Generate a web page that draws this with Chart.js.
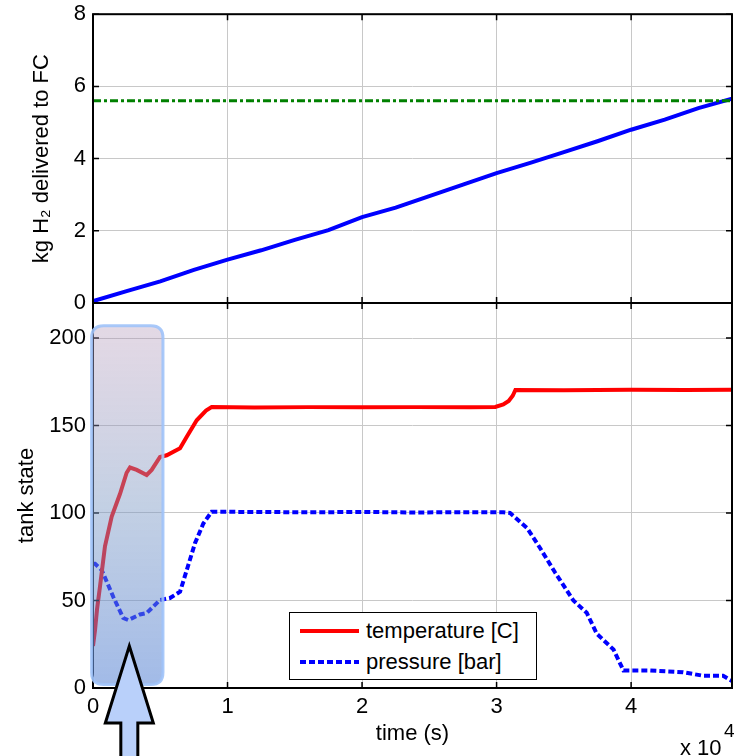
<!DOCTYPE html>
<html>
<head>
<meta charset="utf-8">
<script src="https://cdn.jsdelivr.net/npm/chart.js@4.4.1/dist/chart.umd.min.js"></script>
<style>
  html, body { margin: 0; padding: 0; background: #fff; }
  #wrap { position: relative; width: 734px; height: 756px; overflow: hidden; font-family: "Liberation Sans", Arial, sans-serif; }
  #topChart { position: absolute; left: 0; top: -6px; }
  #bottomChart { position: absolute; left: 0; top: 280px; }
  #legend { position: absolute; left: 289px; top: 612px; width: 248px; height: 68px; box-sizing: border-box; border: 1.5px solid #000; background: #fff; }
  #legend .item { position: absolute; left: 0; width: 100%; height: 30px; }
  #legend svg { position: absolute; left: 10px; top: 0; }
  #legend span { position: absolute; left: 76px; top: 2px; font-size: 22px; line-height: 26px; color: #000; white-space: nowrap; }
</style>
</head>
<body>
<div id="wrap">
  <canvas id="topChart" width="734" height="330"></canvas>
  <canvas id="bottomChart" width="734" height="476"></canvas>
  <div id="legend"></div>
</div>
<script>
// x range of both panels (s)
const timeMax = 47500;
const timeTicks = [0, 10000, 20000, 30000, 40000];
const massTicks = [0, 2, 4, 6, 8];
const stateTicks = [0, 50, 100, 150, 200];

// top panel: kg H2 delivered to FC
const massTime = [0, 2500, 5000, 7500, 10000, 12500, 15000, 17500, 20000, 22500, 25000, 27500, 30000, 32500, 35000, 37500, 40000, 42500, 45000, 47500];
const massKg = [0.05, 0.33, 0.6, 0.92, 1.2, 1.46, 1.75, 2.02, 2.38, 2.64, 2.96, 3.28, 3.6, 3.88, 4.18, 4.48, 4.8, 5.08, 5.4, 5.66];
const targetTime = [0, 47500];
const targetKg = [5.6, 5.6];

// bottom panel: tank state
const tempTime = [0, 150, 300, 520, 890, 1390, 2010, 2500, 2750, 3250, 3990, 4360, 4980, 5480, 6470, 6970, 7710, 8400, 8820, 12000, 16000, 20000, 24000, 28000, 29900, 30500, 30900, 31200, 31400, 35000, 40000, 44000, 47500];
const tempC = [24, 33, 45, 58, 81, 98, 111, 123, 126, 124.6, 121.7, 124.6, 132, 133, 137, 143.6, 153, 158.5, 160.5, 160.3, 160.5, 160.4, 160.5, 160.4, 160.6, 162, 164, 167, 170.3, 170.2, 170.4, 170.3, 170.5];
const presTime = [0, 150, 650, 1510, 2250, 2620, 3490, 3990, 4980, 5720, 6470, 6970, 7580, 8200, 8820, 12000, 16000, 20000, 24000, 28000, 30500, 31000, 32270, 33230, 34350, 34720, 35710, 36700, 37450, 38690, 39430, 41410, 43870, 45350, 46840, 47500];
const presBar = [71, 71, 67.4, 52, 40, 38.8, 42, 42.8, 50.3, 51.4, 55, 67.4, 82.7, 94, 100.7, 100.6, 100.4, 100.6, 100.3, 100.5, 100.4, 100, 91.4, 80, 66, 61.7, 50, 43, 31, 22, 10, 10, 9, 7, 7, 4];

const seriesLabels = ["temperature [C]", "pressure [bar]"];

// highlighted start-up window and arrow tip (data units)
const highlightTime = [-100, 5200];
const highlightState = [2, 207];
const arrowTip = [2700, 24];

function pts(xs, ys) {
  return xs.map((x, i) => ({ x: x, y: ys[i] }));
}
function fixedTicks(values) {
  return scale => { scale.ticks = values.map(v => ({ value: v })); };
}

Chart.defaults.font.family = "'Liberation Sans', Arial, sans-serif";
Chart.defaults.font.size = 22;
Chart.defaults.color = "#000";

const gridOpts = { color: "#c8c8c8", lineWidth: 1, drawTicks: false };

const framePlugin = {
  id: "frame",
  afterDatasetsDraw(chart) {
    const { ctx, chartArea: a, scales } = chart;
    ctx.save();
    ctx.strokeStyle = "#000";
    ctx.lineWidth = 1.5;
    ctx.beginPath();
    scales.x.ticks.forEach(t => {
      const px = scales.x.getPixelForValue(t.value);
      ctx.moveTo(px, a.bottom); ctx.lineTo(px, a.bottom - 6);
      ctx.moveTo(px, a.top); ctx.lineTo(px, a.top + 6);
    });
    scales.y.ticks.forEach(t => {
      const py = scales.y.getPixelForValue(t.value);
      ctx.moveTo(a.left, py); ctx.lineTo(a.left + 6, py);
      ctx.moveTo(a.right, py); ctx.lineTo(a.right - 6, py);
    });
    ctx.stroke();
    ctx.lineWidth = 2;
    ctx.strokeRect(a.left, a.top, a.right - a.left, a.bottom - a.top);
    ctx.restore();
  }
};

const overlayPlugin = {
  id: "overlay",
  afterDraw(chart) {
    const { ctx, scales, chartArea: a } = chart;
    const x0 = scales.x.getPixelForValue(highlightTime[0]);
    const x1 = scales.x.getPixelForValue(highlightTime[1]);
    const y0 = scales.y.getPixelForValue(highlightState[1]);
    const y1 = scales.y.getPixelForValue(highlightState[0]);
    const r = 12;
    ctx.save();
    ctx.beginPath();
    ctx.moveTo(x0 + r, y0);
    ctx.lineTo(x1 - r, y0);
    ctx.quadraticCurveTo(x1, y0, x1, y0 + r);
    ctx.lineTo(x1, y1 - r);
    ctx.quadraticCurveTo(x1, y1, x1 - r, y1);
    ctx.lineTo(x0 + r, y1);
    ctx.quadraticCurveTo(x0, y1, x0, y1 - r);
    ctx.lineTo(x0, y0 + r);
    ctx.quadraticCurveTo(x0, y0, x0 + r, y0);
    ctx.closePath();
    const g = ctx.createLinearGradient(0, y0, 0, y1);
    g.addColorStop(0, "rgba(175, 145, 180, 0.35)");
    g.addColorStop(0.5, "rgba(122, 151, 195, 0.45)");
    g.addColorStop(1, "rgba(85, 130, 212, 0.55)");
    ctx.fillStyle = g;
    ctx.fill();
    ctx.lineWidth = 3;
    ctx.strokeStyle = "rgba(160, 195, 250, 0.9)";
    ctx.stroke();

    // arrow pointing at the window
    const tx = scales.x.getPixelForValue(arrowTip[0]);
    const ty = scales.y.getPixelForValue(arrowTip[1]);
    const hb = ty + 77;
    const bot = chart.height + 10;
    ctx.beginPath();
    ctx.moveTo(tx, ty);
    ctx.lineTo(tx + 24, hb);
    ctx.lineTo(tx + 8.5, hb);
    ctx.lineTo(tx + 8.5, bot);
    ctx.lineTo(tx - 8.5, bot);
    ctx.lineTo(tx - 8.5, hb);
    ctx.lineTo(tx - 24, hb);
    ctx.closePath();
    ctx.fillStyle = "#b9d0fa";
    ctx.fill();
    ctx.lineWidth = 3;
    ctx.lineJoin = "miter";
    ctx.strokeStyle = "#000";
    ctx.stroke();

    // axis exponent
    ctx.fillStyle = "#000";
    ctx.textBaseline = "alphabetic";
    ctx.textAlign = "left";
    ctx.font = "22px 'Liberation Sans', Arial, sans-serif";
    ctx.fillText("x 10", a.right - 52, chart.height - 1);
    ctx.font = "19px 'Liberation Sans', Arial, sans-serif";
    ctx.fillText("4", a.right - 8, chart.height - 19);
    ctx.restore();
  }
};

new Chart(document.getElementById("topChart"), {
  type: "line",
  data: {
    datasets: [
      {
        label: "target",
        data: pts(targetTime, targetKg),
        borderColor: "#008000",
        borderWidth: 3,
        borderDash: [8, 3, 3, 3],
        pointRadius: 0
      },
      {
        label: "delivered",
        data: pts(massTime, massKg),
        borderColor: "#0000ff",
        borderWidth: 4,
        pointRadius: 0
      }
    ]
  },
  options: {
    responsive: false,
    animation: false,
    layout: { padding: { left: 0, right: 2, top: 0, bottom: 0 } },
    plugins: { legend: { display: false }, tooltip: { enabled: false } },
    scales: {
      x: {
        type: "linear",
        min: 0,
        max: timeMax,
        grid: gridOpts,
        border: { display: false },
        ticks: { display: false },
        afterBuildTicks: fixedTicks(timeTicks),
        afterFit(s) { s.height = 21; }
      },
      y: {
        min: 0,
        max: 8,
        grid: gridOpts,
        border: { display: false },
        ticks: { padding: 7 },
        afterBuildTicks: fixedTicks(massTicks),
        title: { display: true, text: "kg H₂ delivered to FC", padding: { top: 29, bottom: 0 } },
        afterFit(s) { s.width = 93; }
      }
    }
  },
  plugins: [framePlugin]
});

new Chart(document.getElementById("bottomChart"), {
  type: "line",
  data: {
    datasets: [
      {
        label: seriesLabels[0],
        data: pts(tempTime, tempC),
        borderColor: "#ff0000",
        borderWidth: 4,
        pointRadius: 0
      },
      {
        label: seriesLabels[1],
        data: pts(presTime, presBar),
        borderColor: "#0000ff",
        borderWidth: 4,
        borderDash: [6, 3],
        pointRadius: 0
      }
    ]
  },
  options: {
    responsive: false,
    animation: false,
    layout: { padding: { left: 0, right: 2, top: 23, bottom: 0 } },
    plugins: { legend: { display: false }, tooltip: { enabled: false } },
    scales: {
      x: {
        type: "linear",
        min: 0,
        max: timeMax,
        grid: gridOpts,
        border: { display: false },
        ticks: { padding: 6, callback: v => v / 10000 },
        afterBuildTicks: fixedTicks(timeTicks),
        title: { display: true, text: "time (s)", padding: { top: 0, bottom: 9 } },
        afterFit(s) { s.height = 68; }
      },
      y: {
        min: 0,
        max: 220,
        grid: gridOpts,
        border: { display: false },
        ticks: { padding: 7 },
        afterBuildTicks: fixedTicks(stateTicks),
        title: { display: true, text: "tank state", padding: { top: 14, bottom: 0 } },
        afterFit(s) { s.width = 93; }
      }
    }
  },
  plugins: [framePlugin, overlayPlugin]
});

// legend inside the lower axes
const legend = document.getElementById("legend");
const legendStyles = [
  { color: "#ff0000", dash: "" },
  { color: "#0000ff", dash: "6 3" }
];
seriesLabels.forEach((name, i) => {
  const item = document.createElement("div");
  item.className = "item";
  item.style.top = (3 + i * 31) + "px";
  item.innerHTML =
    '<svg width="60" height="30"><line x1="0" y1="15" x2="59" y2="15" stroke="' + legendStyles[i].color +
    '" stroke-width="4" stroke-dasharray="' + legendStyles[i].dash + '"/></svg><span></span>';
  item.querySelector("span").textContent = name;
  legend.appendChild(item);
});
</script>
</body>
</html>
